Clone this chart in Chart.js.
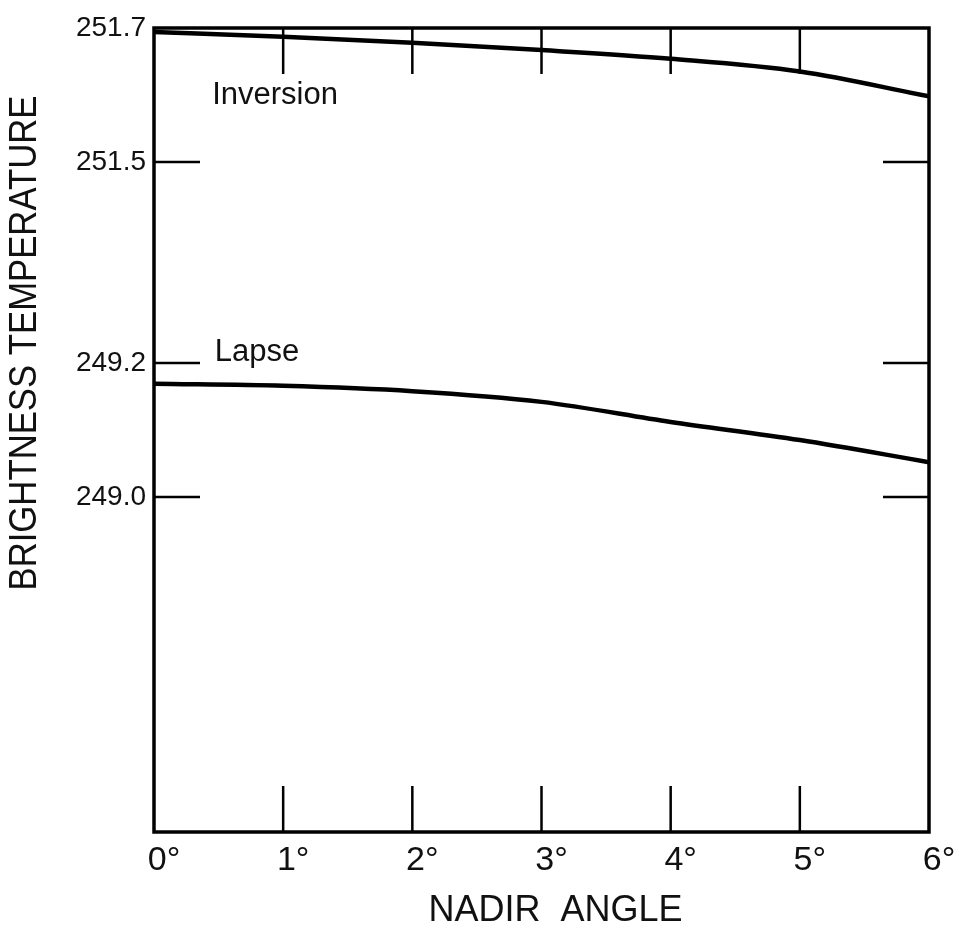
<!DOCTYPE html>
<html>
<head>
<meta charset="utf-8">
<script src="https://cdn.jsdelivr.net/npm/chart.js@4.4.1/dist/chart.umd.min.js"></script>
<style>
  html, body { margin: 0; background: #fff; }
  #wrap { width: 954px; height: 930px; position: relative; }
</style>
</head>
<body>
<div id="wrap"><canvas id="tbChart"></canvas></div>
<script>
// nadir angle in degrees
const nadirAngles = [0, 1, 2, 3, 4, 5, 6];
// brightness temperature (K) for the two profiles
const inversionTb = [251.694, 251.687, 251.678, 251.667, 251.654, 251.635, 251.598];
const lapseTb = [249.169, 249.166, 249.158, 249.142, 249.112, 249.085, 249.052];

// broken y axis: upper and lower pieces have their own ticks
const upperTicks = [251.7, 251.5];
const lowerTicks = [249.2, 249.0];
const angleTicks = [0, 1, 2, 3, 4, 5, 6];

const FONT = '"Liberation Sans", Arial, sans-serif';
Chart.defaults.font.family = FONT;
Chart.defaults.color = '#111';

function pts(ys) {
  return nadirAngles.map((x, i) => ({ x: x, y: ys[i] }));
}

// inward tick marks, frame, curve names and the axis titles
const frameAndTicks = {
  id: 'frameAndTicks',
  afterDatasetsDraw(chart) {
    const { ctx, chartArea: a, scales } = chart;
    const len = 46;
    ctx.save();
    ctx.strokeStyle = '#000';
    ctx.lineCap = 'butt';
    ctx.lineWidth = 2.5;
    ctx.beginPath();
    angleTicks.slice(1, -1).forEach(v => {
      const px = scales.x.getPixelForValue(v);
      ctx.moveTo(px, a.top); ctx.lineTo(px, a.top + len);
      ctx.moveTo(px, a.bottom); ctx.lineTo(px, a.bottom - len);
    });
    const yTicks = [[scales.y, upperTicks.slice(1)], [scales.y2, lowerTicks]];
    yTicks.forEach(([s, vals]) => {
      vals.forEach(v => {
        const py = s.getPixelForValue(v);
        ctx.moveTo(a.left, py); ctx.lineTo(a.left + len, py);
        ctx.moveTo(a.right, py); ctx.lineTo(a.right - len, py);
      });
    });
    ctx.stroke();

    ctx.lineWidth = 3.5;
    ctx.strokeRect(a.left, a.top, a.right - a.left, a.bottom - a.top);

    // curve names
    ctx.fillStyle = '#111';
    ctx.font = '31px ' + FONT;
    ctx.textAlign = 'left';
    ctx.textBaseline = 'middle';
    ctx.fillText('Inversion', scales.x.getPixelForValue(0.45), scales.y.getPixelForValue(251.599));
    ctx.fillText('Lapse', scales.x.getPixelForValue(0.47), scales.y2.getPixelForValue(249.215));

    // x title
    ctx.font = '36px ' + FONT;
    ctx.textAlign = 'center';
    ctx.fillText('NADIR  ANGLE', (a.left + a.right) / 2 + 14, a.bottom + 79);

    // y title, rotated and a little condensed
    const title = 'BRIGHTNESS TEMPERATURE';
    ctx.translate(26, a.top + 315);
    ctx.rotate(-Math.PI / 2);
    ctx.font = '38px ' + FONT;
    const w = ctx.measureText(title).width;
    ctx.scale(495 / w, 1);
    ctx.fillText(title, 0, 0);
    ctx.restore();
  }
};

const yTickOpts = {
  callback: v => v.toFixed(1),
  font: { size: 28 },
  color: '#111',
  padding: 0
};

new Chart(document.getElementById('tbChart'), {
  type: 'line',
  data: {
    datasets: [
      {
        label: 'Inversion',
        data: pts(inversionTb),
        yAxisID: 'y',
        borderColor: '#000',
        borderWidth: 4.5,
        pointRadius: 0,
        cubicInterpolationMode: 'monotone'
      },
      {
        label: 'Lapse',
        data: pts(lapseTb),
        yAxisID: 'y2',
        borderColor: '#000',
        borderWidth: 4.5,
        pointRadius: 0,
        cubicInterpolationMode: 'monotone'
      }
    ]
  },
  options: {
    responsive: true,
    maintainAspectRatio: false,
    animation: false,
    layout: { padding: { top: 28, right: 25, left: 0, bottom: 0 } },
    plugins: { legend: { display: false }, tooltip: { enabled: false } },
    scales: {
      x: {
        type: 'linear',
        min: 0,
        max: 6,
        afterBuildTicks: s => { s.ticks = angleTicks.map(v => ({ value: v })); },
        ticks: { callback: v => v + '°', font: { size: 34 }, color: '#111', padding: 0, labelOffset: 10 },
        grid: { display: false },
        border: { display: false },
        afterFit: s => { s.height = 98; }
      },
      // lower piece is listed first so the stack puts it at the bottom
      y2: {
        type: 'linear',
        position: 'left',
        stack: 'tb',
        stackWeight: 0.85,
        min: 248.5,
        max: 249.35,
        afterBuildTicks: s => { s.ticks = lowerTicks.map(v => ({ value: v })); },
        ticks: yTickOpts,
        grid: { display: false },
        border: { display: false },
        afterFit: s => { s.width = 154; }
      },
      y: {
        type: 'linear',
        position: 'left',
        stack: 'tb',
        stackWeight: 0.35,
        min: 251.35,
        max: 251.7,
        afterBuildTicks: s => { s.ticks = upperTicks.map(v => ({ value: v })); },
        ticks: yTickOpts,
        grid: { display: false },
        border: { display: false },
        afterFit: s => { s.width = 154; }
      }
    }
  },
  plugins: [frameAndTicks]
});
</script>
</body>
</html>
